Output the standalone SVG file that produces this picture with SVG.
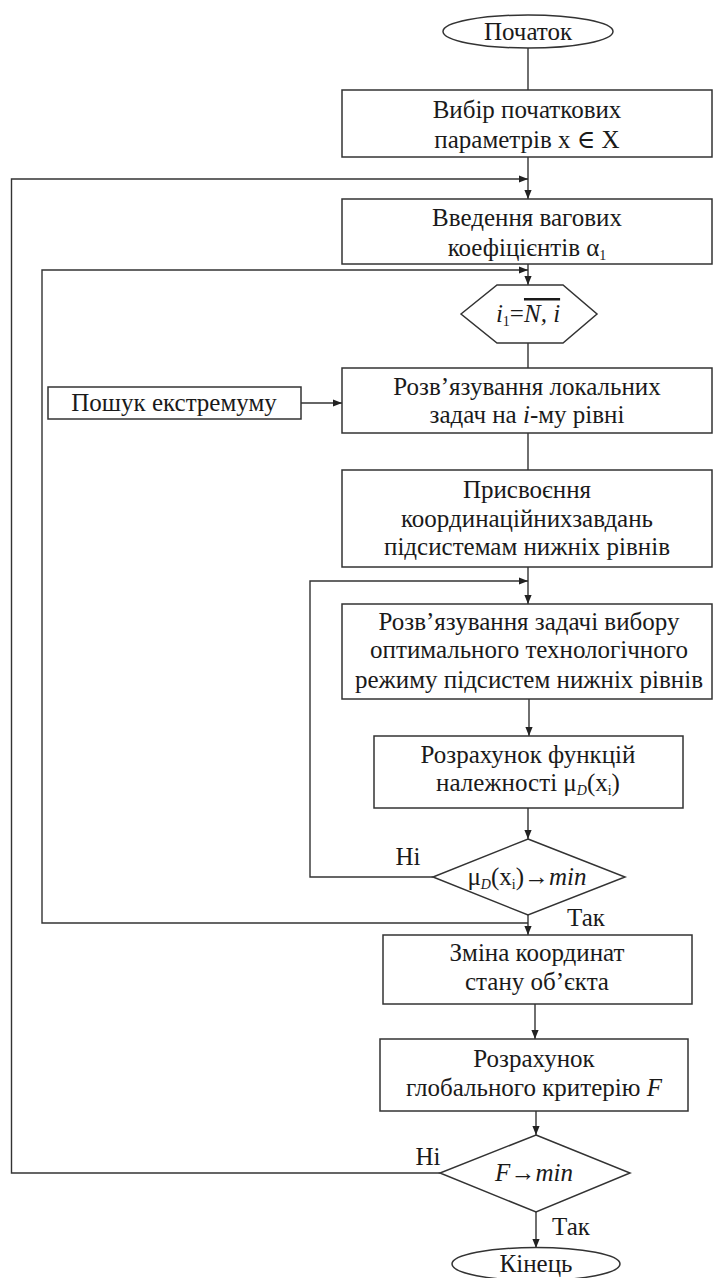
<svg xmlns="http://www.w3.org/2000/svg" width="713" height="1278" viewBox="0 0 713 1278">
<defs>
<style>
.shape{fill:#fff;stroke:#333;stroke-width:1.5}
.ln{fill:none;stroke:#333;stroke-width:1.4}
text{font-family:'Times New Roman',Tinos,'Liberation Serif','DejaVu Serif','Noto Serif',Times,serif;font-size:25px;fill:#1a1a1a;text-anchor:middle}
.it{font-style:italic}
.sub{font-size:14px}
</style>
<marker id="ah" viewBox="0 0 10 10" refX="10" refY="5" markerWidth="9" markerHeight="9" markerUnits="userSpaceOnUse" orient="auto">
<path d="M0,1 L10,5 L0,9 Z" fill="#222"/>
</marker>
</defs>
<rect width="713" height="1278" fill="#fff"/>

<g id="connectors">
<line class="ln" x1="528" y1="48" x2="528" y2="90"/>
<line class="ln" x1="528" y1="157" x2="528" y2="199" marker-end="url(#ah)"/>
<path class="ln" d="M440,1173 H11.5 V179 H528" marker-end="url(#ah)"/>
<line class="ln" x1="528" y1="264" x2="528" y2="285" marker-end="url(#ah)"/>
<path class="ln" d="M528,923 H42 V270 H528" marker-end="url(#ah)"/>
<line class="ln" x1="528" y1="343" x2="528" y2="368"/>
<line class="ln" x1="528" y1="433" x2="528" y2="470"/>
<line class="ln" x1="301" y1="403" x2="342" y2="403" marker-end="url(#ah)"/>
<line class="ln" x1="528" y1="567" x2="528" y2="604" marker-end="url(#ah)"/>
<path class="ln" d="M433,877 H310 V581 H528" marker-end="url(#ah)"/>
<line class="ln" x1="529" y1="699" x2="529" y2="736" marker-end="url(#ah)"/>
<line class="ln" x1="528" y1="808" x2="528" y2="839" marker-end="url(#ah)"/>
<line class="ln" x1="528" y1="915" x2="528" y2="935" marker-end="url(#ah)"/>
<line class="ln" x1="535" y1="1004" x2="535" y2="1039" marker-end="url(#ah)"/>
<line class="ln" x1="536" y1="1111" x2="536" y2="1135" marker-end="url(#ah)"/>
<line class="ln" x1="536" y1="1212" x2="536" y2="1248" marker-end="url(#ah)"/>
<text x="408" y="865">Ні</text>
<text x="586" y="926">Так</text>
<text x="428" y="1165">Ні</text>
<text x="571" y="1235">Так</text>
</g>

<g id="start">
<ellipse class="shape" cx="528" cy="31.5" rx="85" ry="16.5"/>
<text x="528" y="40">Початок</text>
</g>

<g id="box1">
<rect class="shape" x="342" y="90" width="370" height="67"/>
<text x="527" y="118">Вибір початкових</text>
<text x="527" y="148">параметрів x ∈ X</text>
</g>

<g id="box2">
<rect class="shape" x="342" y="199" width="370" height="65"/>
<text x="527" y="226">Введення вагових</text>
<text x="527" y="256">коефіцієнтів α<tspan class="sub" dy="4">1</tspan></text>
</g>

<g id="loop">
<polygon class="shape" points="461,314 497,285 563,285 597,314 563,343 497,343"/>
<text x="528" y="322"><tspan class="it">i</tspan><tspan class="sub" dy="4">1</tspan><tspan dy="-4">=</tspan><tspan class="it" text-decoration="overline">N, i</tspan></text>
</g>

<g id="search">
<rect class="shape" x="48" y="387" width="253" height="32"/>
<text x="174" y="411">Пошук екстремуму</text>
</g>

<g id="box3">
<rect class="shape" x="342" y="368" width="370" height="65"/>
<text x="527" y="395">Розв’язування локальних</text>
<text x="527" y="423">задач на <tspan class="it">i</tspan>-му рівні</text>
</g>

<g id="box4">
<rect class="shape" x="342" y="470" width="370" height="97"/>
<text x="527" y="498">Присвоєння</text>
<text x="527" y="527">координаційнихзавдань</text>
<text x="527" y="555">підсистемам нижніх рівнів</text>
</g>

<g id="box5">
<rect class="shape" x="342" y="604" width="370" height="95"/>
<text x="529" y="630">Розв’язування задачі вибору</text>
<text x="529" y="658">оптимального технологічного</text>
<text x="529" y="688">режиму підсистем нижніх рівнів</text>
</g>

<g id="box6">
<rect class="shape" x="374" y="736" width="309" height="72"/>
<text x="528" y="763">Розрахунок функцій</text>
<text x="528" y="791">належності μ<tspan class="sub it" dy="4">D</tspan><tspan dy="-4">(x</tspan><tspan class="sub" dy="4">i</tspan><tspan dy="-4">)</tspan></text>
</g>

<g id="decision1">
<polygon class="shape" points="528,839 625,877 528,915 433,877"/>
<text x="527" y="885">μ<tspan class="sub it" dy="4">D</tspan><tspan dy="-4">(x</tspan><tspan class="sub" dy="4">i</tspan><tspan dy="-4">)→</tspan><tspan class="it">min</tspan></text>
</g>

<g id="box7">
<rect class="shape" x="383" y="935" width="309" height="69"/>
<text x="537" y="961">Зміна координат</text>
<text x="537" y="990">стану об’єкта</text>
</g>

<g id="box8">
<rect class="shape" x="380" y="1039" width="308" height="72"/>
<text x="534" y="1067">Розрахунок</text>
<text x="534" y="1096">глобального критерію <tspan class="it">F</tspan></text>
</g>

<g id="decision2">
<polygon class="shape" points="536,1135 630,1173 536,1212 440,1173"/>
<text x="534" y="1181"><tspan class="it">F</tspan>→<tspan class="it">min</tspan></text>
</g>

<g id="end">
<ellipse class="shape" cx="536" cy="1264" rx="84" ry="16.5"/>
<text x="536" y="1272">Кінець</text>
</g>
</svg>
